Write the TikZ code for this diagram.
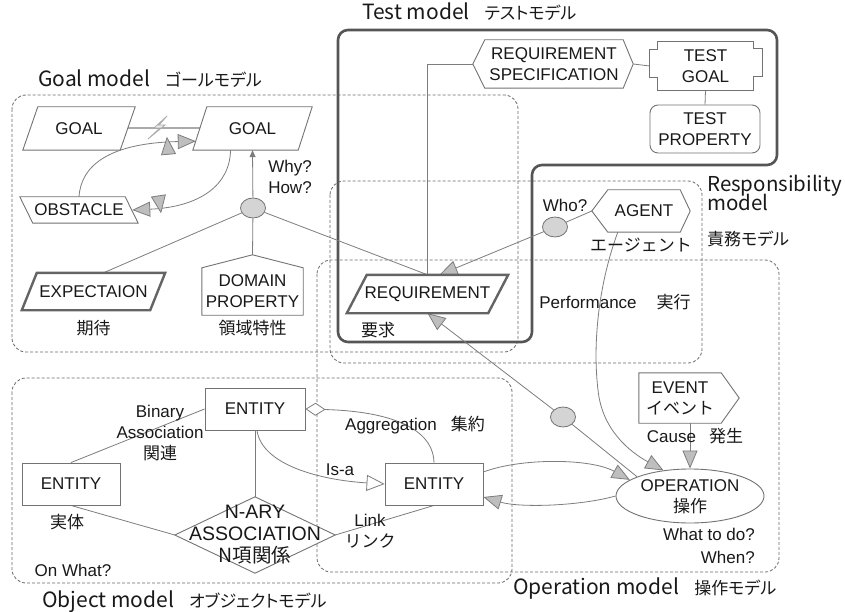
\documentclass[tikz,border=0pt]{standalone}
\usepackage{fontspec}
\setmainfont{Liberation Sans}
\newfontfamily\jp{Noto Sans CJK JP}
\newfontfamily\jpprop[RawFeature=+palt]{Noto Sans CJK JP}
\usetikzlibrary{arrows.meta,calc,shapes.geometric,decorations.markings}
\pgfdeclarelayer{boxes}
\pgfdeclarelayer{conn}
\pgfdeclarelayer{shp}
\pgfsetlayers{boxes,conn,shp,main}

\definecolor{linec}{RGB}{125,125,125}
\definecolor{bordc}{RGB}{115,115,115}
\definecolor{thickc}{RGB}{100,100,100}
\definecolor{framec}{RGB}{85,85,85}
\definecolor{dashc}{RGB}{105,105,105}
\definecolor{dotfill}{RGB}{212,212,212}
\definecolor{headfill}{RGB}{190,190,190}
\definecolor{ink}{RGB}{25,25,25}
\definecolor{boltc}{RGB}{170,170,170}
\definecolor{boltfill}{RGB}{236,236,236}

\newcommand\lblfont{\fontsize{17}{21}\selectfont}
\newcommand\ttlfont{\jpprop\fontsize{21}{24}\selectfont}
\newcommand\kanafont{\fontsize{17}{24}\selectfont}

\tikzset{
  every node/.style={text=ink, font=\lblfont, inner sep=0pt, align=center},
  shapeline/.style={draw=bordc, fill=white, line width=0.9pt, line join=miter},
  thickline/.style={draw=thickc, fill=white, line width=2.4pt, line join=miter},
  entbox/.style={shapeline, minimum width=#1, minimum height=42pt},
  modelbox/.style={draw=dashc, line width=0.8pt, dash pattern=on 3pt off 2pt, rounded corners=14pt},
  testframe/.style={draw=framec, line width=2.6pt, rounded corners=10pt},
  link/.style={draw=linec, line width=0.8pt},
  tri/.style={link, -{Triangle[length=18pt,width=15pt,fill=headfill]}},
  isa/.style={link, -{Triangle[length=18pt,width=16pt,fill=white]}},
  agg/.style={link, {Diamond[length=20pt,width=13pt,fill=white]}-},
  upwd/.style={link, -{Triangle[length=7pt,width=6pt,fill=linec]}},
  refdot/.style={ellipse, draw=bordc, fill=dotfill, line width=0.8pt, minimum width=25pt, minimum height=20pt},
  obtick/.style={postaction={decorate, decoration={markings, mark=at position #1 with {\draw[linec, line width=0.8pt] (0pt,-6pt) -- (0pt,6pt);}}}},
  ttlnode/.style={anchor=base west, font=\ttlfont},
}

\begin{document}
\begin{tikzpicture}[x=1pt,y=-1pt]
\useasboundingbox (0,0) rectangle (845,612);

% ---------- model areas ----------
\begin{pgfonlayer}{boxes}
  \fill[white] (0,0) rectangle (845,612);
  \draw[modelbox] (12,95) rectangle (518,352);
  \draw[modelbox] (330,181) rectangle (702,363);
  \draw[modelbox] (317,260) rectangle (779,572);
  \draw[modelbox] (12,378) rectangle (512,583);
  \draw[testframe] (338,30) -- (777,30) -- (777,165) -- (532,165) -- (532,342) -- (338,342) -- cycle;
\end{pgfonlayer}

% ---------- area titles ----------
\node[ttlnode] (ttlgoal) at (38,87) {Goal model\hspace{15pt}{\kanafont ゴールモデル}};
\node[ttlnode] (ttltest) at (362,20) {Test model\hspace{15pt}{\kanafont テストモデル}};
\node[ttlnode, font=\jpprop\fontsize{20.5}{24}\selectfont] (ttlresp1) at (707,192) {Responsibility};
\node[ttlnode, font=\jpprop\fontsize{20.5}{24}\selectfont] (ttlresp2) at (707,211) {model};
\node[ttlnode] (ttlresp3) at (707,245) {\kanafont 責務モデル};
\node[ttlnode] (ttlop) at (513,594) {Operation model\hspace{15pt}{\kanafont 操作モデル}};
\node[ttlnode] (ttlobj) at (42,607) {Object model\hspace{15pt}{\kanafont オブジェクトモデル}};

% ---------- goal model ----------
\node[minimum width=112pt, minimum height=43pt] (goalL) at (79,128.5) {GOAL};
\node[minimum width=119pt, minimum height=43pt] (goalR) at (252.5,128.5) {GOAL};
\node[minimum width=118pt, minimum height=26pt] (obst) at (79,210) {OBSTACLE};
\node[minimum width=143pt, minimum height=37pt] (expn) at (93.5,291.5) {EXPECTAION};
\node[minimum width=101pt, minimum height=47pt] (dom) at (252.5,291.5) {DOMAIN\\PROPERTY};
\coordinate (domtop) at ($(dom.north)+(0,-13)$);
\node[refdot] (r1) at (253,208) {};
\node (why) at (290,177) {Why?\\How?};
\node (expjp) at (93.5,328) {\jp 期待};
\node (domjp) at (252.5,328) {\jp 領域特性};

% ---------- test model ----------
\node[minimum width=138pt, minimum height=48pt] (rspec) at (554,64) {REQUIREMENT\\SPECIFICATION};
\coordinate (rspecL) at ($(rspec.west)+(-12,0)$);
\coordinate (rspecR) at ($(rspec.east)+(10,0)$);
\node[minimum width=95pt, minimum height=48pt] (tgoal) at (705.5,66) {TEST\\GOAL};
\coordinate (tgoalL) at ($(tgoal.west)+(-8,0)$);
\node[shapeline, rounded corners=8pt, minimum width=110pt, minimum height=48pt] (tprop) at (705,129) {TEST\\PROPERTY};

% ---------- responsibility model ----------
\node[minimum width=72pt, minimum height=42pt] (agent) at (644,211) {AGENT};
\coordinate (agentL) at ($(agent.west)+(-16,0)$);
\coordinate (agentR) at ($(agent.east)+(10,0)$);
\node (agentjp) at (641,245) {\jp エージェント};
\node[refdot] (r2) at (555,227) {};
\node (who) at (565,205) {Who?};

% ---------- operation model ----------
\node[minimum width=161pt, minimum height=38pt] (req) at (427.5,294) {REQUIREMENT};
\node (reqjp) at (378,330) {\jp 要求};
\node (perf) at (615,302) {Performance\hspace{20pt}{\jp 実行}};
\node[minimum width=82pt, minimum height=50pt] (event) at (680,398) {EVENT\\{\jp イベント}};
\node (cause) at (695,436) {Cause\hspace{13pt}{\jp 発生}};
\node[ellipse, draw=bordc, fill=white, line width=0.9pt, minimum width=148pt, minimum height=54pt] (oper) at (690,496) {};
\node (opertxt) at (690,497) {OPERATION\\{\jp 操作}};
\node[anchor=east, align=right] (what) at (755,546) {What to do?\\[1.5pt]When?};
\node[refdot] (r3) at (563,417) {};

% ---------- object model ----------
\node[entbox=100pt] (entT) at (255,409) {ENTITY};
\node[entbox=98pt] (entL) at (71,484) {ENTITY};
\node[entbox=98pt] (entR) at (434,484) {ENTITY};
\node[minimum width=160pt, minimum height=76pt, font=\fontsize{19.5}{22}\selectfont] (nary) at (255,535) {N-ARY\\ASSOCIATION\\{\jp N項関係}};
\node (binary) at (160,433.5) {Binary\\Association\\{\jp 関連}};
\node (entjp) at (67,522) {\jp 実体};
\node (onwhat) at (73,570) {On What?};
\node (isa) at (340,470) {Is-a};
\node (aggr) at (415,425) {Aggregation\hspace{14pt}{\jp 集約}};
\node (linkl) at (370,531) {Link\\{\jp リンク}};

% ---------- outlines of the non-rectangular elements ----------
\begin{pgfonlayer}{shp}
  \draw[shapeline] (goalL.south west) -- ($(goalL.north west)+(15,0)$) -- (goalL.north east) -- ($(goalL.south east)+(-15,0)$) -- cycle;
  \draw[shapeline] (goalR.south west) -- ($(goalR.north west)+(14,0)$) -- (goalR.north east) -- ($(goalR.south east)+(-14,0)$) -- cycle;
  \draw[shapeline] (obst.north west) -- ($(obst.north east)+(-13,0)$) -- (obst.south east) -- ($(obst.south west)+(13,0)$) -- cycle;
  \draw[thickline] (expn.south west) -- ($(expn.north west)+(15,0)$) -- (expn.north east) -- ($(expn.south east)+(-15,0)$) -- cycle;
  \draw[shapeline] (dom.south west) -- (dom.north west) -- (domtop) -- (dom.north east) -- (dom.south east) -- cycle;
  \draw[thickline] (req.south west) -- ($(req.north west)+(20,0)$) -- (req.north east) -- ($(req.south east)+(-20,0)$) -- cycle;
  \draw[shapeline] (rspec.north west) -- (rspec.north east) -- (rspecR) -- (rspec.south east) -- (rspec.south west) -- (rspecL) -- cycle;
  \draw[shapeline] (tgoal.north west) -- (tgoal.north east) -- ++(0,7) -- ++(9,0) -- ++(0,28) -- ++(-9,0)
        -- (tgoal.south east) -- (tgoal.south west) -- ++(0,-13) -- ++(-8,0) -- ++(0,-28) -- ++(8,0) -- cycle;
  \draw[shapeline] (agent.north west) -- (agent.north east) -- (agentR) -- (agent.south east) -- (agent.south west) -- (agentL) -- cycle;
  \draw[shapeline] (event.north west) -- (event.north east) -- ($(event.east)+(18,0)$) -- (event.south east) -- (event.south west) -- cycle;
  \draw[shapeline] (nary.north) -- (nary.east) -- (nary.south) -- (nary.west) -- cycle;
  % conflict mark
  \draw[draw=boltc, fill=boltfill, line width=0.8pt, line join=miter]
    (167,116) -- (154,128) -- (160,128) -- (148,139) -- (165,125) -- (159,125) -- cycle;
\end{pgfonlayer}

% ---------- connectors ----------
\begin{pgfonlayer}{conn}
  \draw[draw=boltc, line width=2pt] ($(goalL.east)+(-7,0)$) -- ($(goalR.west)+(7,0)$);
  \draw[tri, obtick=0.8] (obst.north) .. controls (81,165) and (110,143) .. ($(goalR.south west)+(3,-9)$);
  \draw[tri, obtick=0.78] ($(goalR.south)+(-22,0)$) .. controls (230,185) and (200,207) .. ($(obst.east)+(-6,0)$);
  \draw[upwd] (r1) -- (goalR.south);
  \draw[link] (r1) -- ($(expn.north)+(10,0)$);
  \draw[link] (r1) -- (domtop);
  \draw[link] (r1) -- (req.north);

  \draw[link] (rspecL) -| (req.north);
  \draw[link] (rspecR) -- (tgoalL);
  \draw[link] (tgoal.south) -- (tprop.north);

  \draw[link] (r2) -- (agentL);
  \draw[tri] (r2) -- ($(req.north)+(12,0)$);
  \draw[tri] ($(agent.south west)+(10,0)$) .. controls (600,280) and (592,340) .. (598,390)
             .. controls (602,430) and (630,452) .. (oper.136);
  \draw[tri] ($(event.south)+(10,0)$) -- (oper.north);
  \draw[tri] (r3) -- (req.south);
  \draw[link] (r3) -- (oper.160);

  \draw[tri] ($(entR.east)+(0,-12)$) .. controls (520,458) and (590,458) .. (oper.165);
  \draw[tri] (oper.west) .. controls (580,506) and (520,508) .. ($(entR.east)+(0,13)$);

  \draw[agg] (entT.east) .. controls (380,411) and (433,424) .. (entR.north);
  \draw[isa] ($(entT.south)+(2,0)$) .. controls (262,465) and (320,480) .. (entR.west);
  \draw[link] (entT.south) -- (nary.north);
  \draw[link] (entL.south) -- (nary.west);
  \draw[link] (nary.east) -- (entR.south);
  \draw[link] (entL.north) -- (entT.west);
\end{pgfonlayer}
\end{tikzpicture}
\end{document}
